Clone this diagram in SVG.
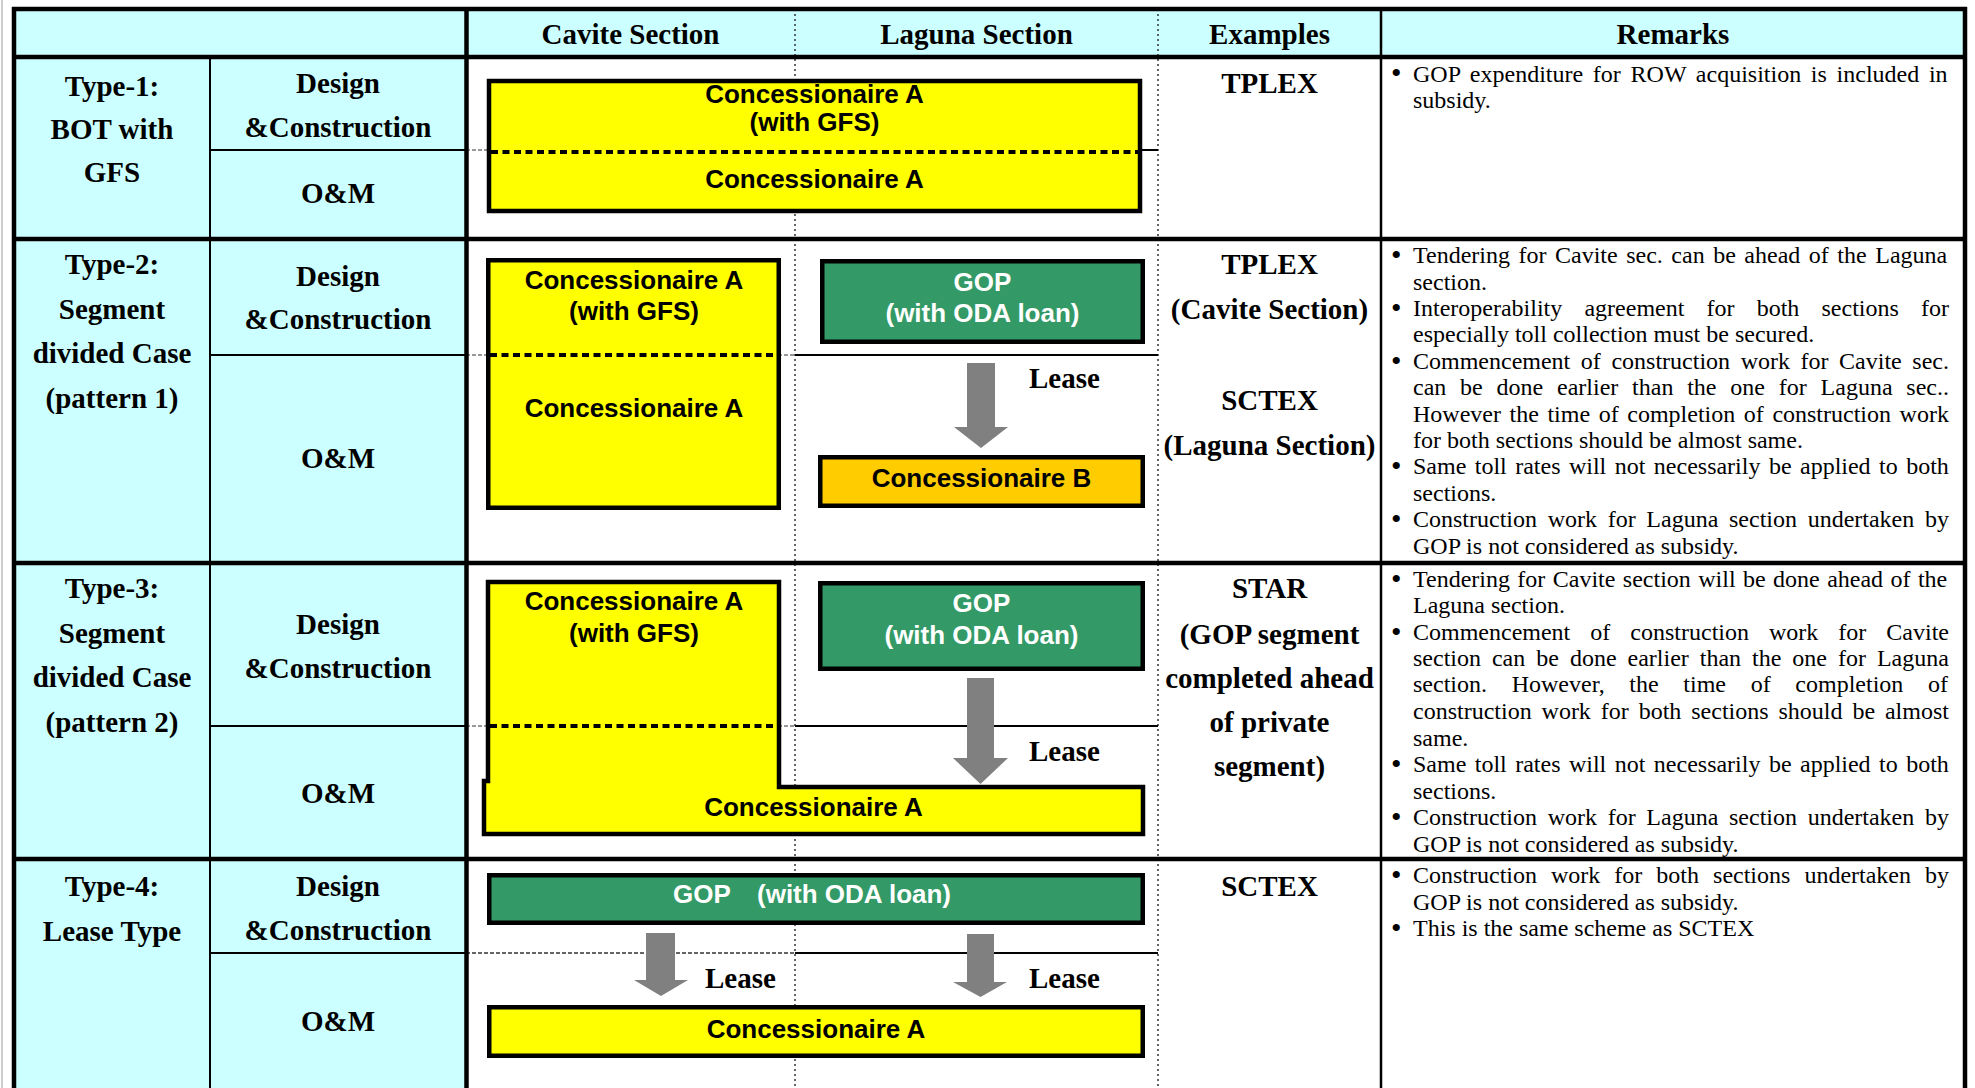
<svg xmlns="http://www.w3.org/2000/svg" width="1975" height="1088" viewBox="0 0 1975 1088">
<style>
.hd{font-family:"Liberation Serif","Times New Roman",serif;font-weight:bold;font-size:29px;fill:#000;text-anchor:middle}
.ls{font-family:"Liberation Serif","Times New Roman",serif;font-weight:bold;font-size:29px;fill:#000}
.sb{font-family:"Liberation Sans",Arial,sans-serif;font-weight:bold;font-size:26px;fill:#000;text-anchor:middle}
.wt{fill:#fff}
.rm{font-family:"Liberation Serif","Times New Roman",serif;font-size:24px;fill:#000}
.bu{font-family:"Liberation Serif","Times New Roman",serif;font-size:30px;fill:#000}
.box{stroke:#000;stroke-width:4.5}
.yel{fill:#ffff00}
.grn{fill:#339966}
.org{fill:#ffcc00}
.thick{stroke:#000;stroke-width:4.5}
.thin{stroke:#000;stroke-width:2}
.dot{stroke:#333;stroke-width:1.5;stroke-dasharray:2 3}
.gdash{stroke:#777;stroke-width:1.5;stroke-dasharray:4 2}
.bdot{stroke:#000;stroke-width:4;stroke-dasharray:7 4.5}
.arr{fill:#808080}
</style>
<rect x="0" y="0" width="1975" height="1088" fill="#fff"/>
<g id="table">
<rect x="14" y="9" width="1951" height="48" fill="#ccffff"/>
<rect x="14" y="57" width="452" height="1031" fill="#ccffff"/>
<line x1="2" y1="0" x2="2" y2="1088" stroke="#999" stroke-width="1"/>
<line class="dot" x1="795" y1="9" x2="795" y2="1088"/>
<line class="dot" x1="1158" y1="9" x2="1158" y2="1088"/>
<line class="thin" x1="210" y1="57" x2="210" y2="1088"/>
<line x1="1381" y1="9" x2="1381" y2="1088" stroke="#000" stroke-width="2.5"/>
<line class="thin" x1="210" y1="150" x2="466" y2="150"/>
<line class="gdash" x1="466" y1="150" x2="795" y2="150"/>
<line class="thin" x1="795" y1="150" x2="1158" y2="150"/>
<line class="thin" x1="210" y1="355" x2="466" y2="355"/>
<line class="gdash" x1="466" y1="355" x2="795" y2="355"/>
<line class="thin" x1="795" y1="355" x2="1158" y2="355"/>
<line class="thin" x1="210" y1="726" x2="466" y2="726"/>
<line class="gdash" x1="466" y1="726" x2="795" y2="726"/>
<line class="thin" x1="795" y1="726" x2="1158" y2="726"/>
<line class="thin" x1="210" y1="953" x2="466" y2="953"/>
<line stroke="#333" stroke-width="1.5" stroke-dasharray="4 2" x1="466" y1="953" x2="795" y2="953"/>
<line class="thin" x1="795" y1="953" x2="1158" y2="953"/>
<line class="thick" x1="12" y1="9" x2="1967" y2="9"/>
<line class="thick" x1="12" y1="57" x2="1967" y2="57"/>
<line class="thick" x1="12" y1="239" x2="1967" y2="239"/>
<line class="thick" x1="12" y1="563" x2="1967" y2="563"/>
<line class="thick" x1="12" y1="859" x2="1967" y2="859"/>
<line class="thick" x1="14" y1="7" x2="14" y2="1088"/>
<line class="thick" x1="466.5" y1="9" x2="466.5" y2="1088"/>
<line class="thick" x1="1965" y1="7" x2="1965" y2="1088"/>
</g>
<g id="header">
<text class="hd" x="630.5" y="44">Cavite Section</text>
<text class="hd" x="976.5" y="44">Laguna Section</text>
<text class="hd" x="1269.5" y="44">Examples</text>
<text class="hd" x="1673" y="44">Remarks</text>
</g>
<g id="type1-label">
<text class="hd" x="112" y="96">Type-1:</text>
<text class="hd" x="112" y="139">BOT with</text>
<text class="hd" x="112" y="182">GFS</text>
<text class="hd" x="338" y="93">Design</text>
<text class="hd" x="338" y="137">&amp;Construction</text>
<text class="hd" x="338" y="203">O&amp;M</text>
</g>
<g id="type2-label">
<text class="hd" x="112" y="274">Type-2:</text>
<text class="hd" x="112" y="319">Segment</text>
<text class="hd" x="112" y="363">divided Case</text>
<text class="hd" x="112" y="408">(pattern 1)</text>
<text class="hd" x="338" y="286">Design</text>
<text class="hd" x="338" y="329">&amp;Construction</text>
<text class="hd" x="338" y="468">O&amp;M</text>
</g>
<g id="type3-label">
<text class="hd" x="112" y="598">Type-3:</text>
<text class="hd" x="112" y="643">Segment</text>
<text class="hd" x="112" y="687">divided Case</text>
<text class="hd" x="112" y="732">(pattern 2)</text>
<text class="hd" x="338" y="634">Design</text>
<text class="hd" x="338" y="678">&amp;Construction</text>
<text class="hd" x="338" y="803">O&amp;M</text>
</g>
<g id="type4-label">
<text class="hd" x="112" y="896">Type-4:</text>
<text class="hd" x="112" y="941">Lease Type</text>
<text class="hd" x="338" y="896">Design</text>
<text class="hd" x="338" y="940">&amp;Construction</text>
<text class="hd" x="338" y="1031">O&amp;M</text>
</g>
<g id="examples">
<text class="hd" x="1269.5" y="93">TPLEX</text>
<text class="hd" x="1269.5" y="274">TPLEX</text>
<text class="hd" x="1269.5" y="319">(Cavite Section)</text>
<text class="hd" x="1269.5" y="410">SCTEX</text>
<text class="hd" x="1269.5" y="455">(Laguna Section)</text>
<text class="hd" x="1269.5" y="598">STAR</text>
<text class="hd" x="1269.5" y="644">(GOP segment</text>
<text class="hd" x="1269.5" y="688">completed ahead</text>
<text class="hd" x="1269.5" y="732">of private</text>
<text class="hd" x="1269.5" y="776">segment)</text>
<text class="hd" x="1269.5" y="896">SCTEX</text>
</g>
<g id="type1-concA">
<rect class="box yel" x="489" y="81" width="651" height="130"/>
<line class="bdot" x1="491" y1="152" x2="1138" y2="152"/>
<text class="sb" x="814.5" y="103">Concessionaire A</text>
<text class="sb" x="814.5" y="131">(with GFS)</text>
<text class="sb" x="814.5" y="188">Concessionaire A</text>
</g>
<g id="type2-concA">
<rect class="box yel" x="488.25" y="260.25" width="290.5" height="247.5"/>
<line class="bdot" x1="490" y1="355" x2="777" y2="355"/>
<text class="sb" x="634" y="289">Concessionaire A</text>
<text class="sb" x="634" y="320">(with GFS)</text>
<text class="sb" x="634" y="417">Concessionaire A</text>
</g>
<g id="type2-gop">
<rect class="box grn" x="822.25" y="261.25" width="320.5" height="80.5"/>
<text class="sb wt" x="982.5" y="291">GOP</text>
<text class="sb wt" x="982.5" y="322">(with ODA loan)</text>
</g>
<g id="type2-concB">
<rect class="box org" x="820.25" y="457.25" width="322.5" height="48.5"/>
<text class="sb" x="981.5" y="487">Concessionaire B</text>
</g>
<g id="type3-concA">
<path class="box yel" d="M488,582 H779 V787 H1143 V834 H484 V781 H488 Z"/>
<line class="bdot" x1="490" y1="726" x2="775" y2="726"/>
<text class="sb" x="634" y="610">Concessionaire A</text>
<text class="sb" x="634" y="642">(with GFS)</text>
<text class="sb" x="813.5" y="816">Concessionaire A</text>
</g>
<g id="type3-gop">
<rect class="box grn" x="820.25" y="583.25" width="322.5" height="85.5"/>
<text class="sb wt" x="981.5" y="612">GOP</text>
<text class="sb wt" x="981.5" y="644">(with ODA loan)</text>
</g>
<g id="type4-gop">
<rect class="box grn" x="489.25" y="875.25" width="653.5" height="47.5"/>
<text class="sb wt" style="text-anchor:start" y="903"><tspan x="673">GOP</tspan><tspan x="757">(with ODA loan)</tspan></text>
</g>
<g id="type4-concA">
<rect class="box yel" x="489.25" y="1007.25" width="653.5" height="48.5"/>
<text class="sb" x="816" y="1038">Concessionaire A</text>
</g>
<g id="connectors">
<polygon class="arr" points="967,363 995,363 995,427 1008,427 981,448 954,427 967,427"/>
<text class="ls" x="1029" y="388">Lease</text>
<polygon class="arr" points="967,678 994,678 994,758 1008,758 980.5,784 953,758 967,758"/>
<text class="ls" x="1029" y="761">Lease</text>
<polygon class="arr" points="646,933 675,933 675,980 688,980 661,996 634,980 646,980"/>
<text class="ls" x="705" y="988">Lease</text>
<polygon class="arr" points="967,934 994,934 994,982 1007,982 980.5,997 953,982 967,982"/>
<text class="ls" x="1029" y="988">Lease</text>
</g>
<g id="remarks1">
<text class="bu" x="1391" y="83">•</text>
<text class="rm" x="1413" y="81.5" word-spacing="3.72">GOP expenditure for ROW acquisition is included in</text>
<text class="rm" x="1413" y="108">subsidy.</text>
</g>
<g id="remarks2">
<text class="bu" x="1391" y="264.5">•</text>
<text class="rm" x="1413" y="263" word-spacing="2.53">Tendering for Cavite sec. can be ahead of the Laguna</text>
<text class="rm" x="1413" y="290">section.</text>
<text class="bu" x="1391" y="317.5">•</text>
<text class="rm" x="1413" y="316" word-spacing="16.16">Interoperability agreement for both sections for</text>
<text class="rm" x="1413" y="342">especially toll collection must be secured.</text>
<text class="bu" x="1391" y="370.5">•</text>
<text class="rm" x="1413" y="369" word-spacing="4.57">Commencement of construction work for Cavite sec.</text>
<text class="rm" x="1413" y="395" word-spacing="7.8">can be done earlier than the one for Laguna sec..</text>
<text class="rm" x="1413" y="422" word-spacing="2.58">However the time of completion of construction work</text>
<text class="rm" x="1413" y="448">for both sections should be almost same.</text>
<text class="bu" x="1391" y="475.5">•</text>
<text class="rm" x="1413" y="474" word-spacing="2.44">Same toll rates will not necessarily be applied to both</text>
<text class="rm" x="1413" y="501">sections.</text>
<text class="bu" x="1391" y="528.5">•</text>
<text class="rm" x="1413" y="527" word-spacing="4.68">Construction work for Laguna section undertaken by</text>
<text class="rm" x="1413" y="554">GOP is not considered as subsidy.</text>
</g>
<g id="remarks3">
<text class="bu" x="1391" y="588.5">•</text>
<text class="rm" x="1413" y="587" word-spacing="1.42">Tendering for Cavite section will be done ahead of the</text>
<text class="rm" x="1413" y="613">Laguna section.</text>
<text class="bu" x="1391" y="641.5">•</text>
<text class="rm" x="1413" y="640" word-spacing="14.02">Commencement of construction work for Cavite</text>
<text class="rm" x="1413" y="666" word-spacing="4.98">section can be done earlier than the one for Laguna</text>
<text class="rm" x="1413" y="692" word-spacing="18.68">section. However, the time of completion of</text>
<text class="rm" x="1413" y="719" word-spacing="3.91">construction work for both sections should be almost</text>
<text class="rm" x="1413" y="746">same.</text>
<text class="bu" x="1391" y="773.5">•</text>
<text class="rm" x="1413" y="772" word-spacing="2.44">Same toll rates will not necessarily be applied to both</text>
<text class="rm" x="1413" y="799">sections.</text>
<text class="bu" x="1391" y="826.5">•</text>
<text class="rm" x="1413" y="825" word-spacing="4.68">Construction work for Laguna section undertaken by</text>
<text class="rm" x="1413" y="852">GOP is not considered as subsidy.</text>
</g>
<g id="remarks4">
<text class="bu" x="1391" y="884.5">•</text>
<text class="rm" x="1413" y="883" word-spacing="8.02">Construction work for both sections undertaken by</text>
<text class="rm" x="1413" y="910">GOP is not considered as subsidy.</text>
<text class="bu" x="1391" y="937.5">•</text>
<text class="rm" x="1413" y="936">This is the same scheme as SCTEX</text>
</g>
</svg>
